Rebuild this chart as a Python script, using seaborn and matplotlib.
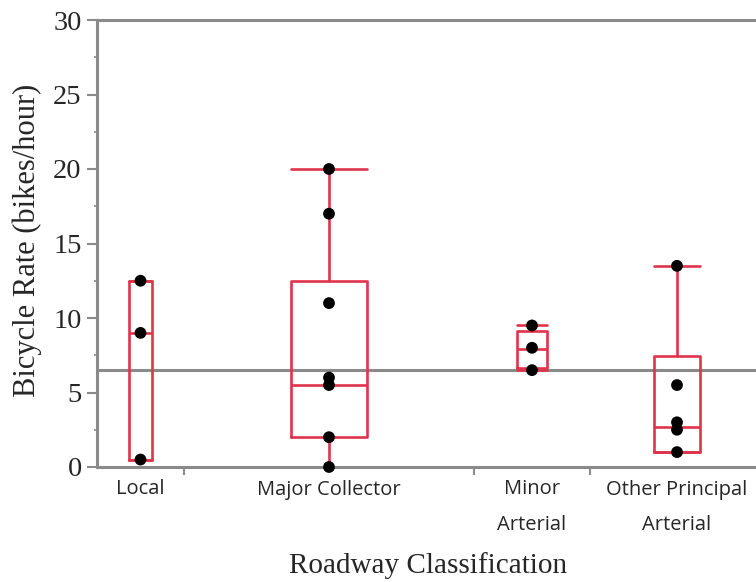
import pandas as pd
import matplotlib
matplotlib.use('Agg')
import matplotlib.pyplot as plt
import seaborn as sns

# data
groups = ['Local', 'Major Collector', 'Minor Arterial', 'Other Principal Arterial']
labels = ['Local', 'Major Collector', 'Minor\nArterial', 'Other Principal\nArterial']
n_obs = [3, 10, 4, 6]

local_pts = [12.5, 9.0, 0.5]
major_pts = [20.0, 17.0, 11.0, 6.0, 5.5, 2.0, 0.0]
minor_pts = [9.5, 8.0, 6.5]
other_pts = [13.5, 5.5, 3.0, 2.5, 1.0]

q1 = [0.5, 2.0, 6.65, 1.0]
med = [9.0, 5.5, 7.9, 2.7]
q3 = [12.5, 12.5, 9.1, 7.45]
whis_lo = [0.5, 0.0, 6.5, 1.0]
whis_hi = [12.5, 20.0, 9.5, 13.5]

grand_mean = 6.5

sns.set_style('white')

red = '#e0344c'
grey = '#8a8a8a'

# group spans on the x axis are proportional to sample size (JMP style)
edges = [0]
for n in n_obs:
    edges.append(edges[-1] + n)
centers = [(edges[i] + edges[i + 1]) / 2 for i in range(len(n_obs))]
widths = [0.26 * n for n in n_obs]

fig = plt.figure(figsize=(7.56, 5.82), dpi=100)
ax = fig.add_axes([97 / 756, 1 - 467 / 582, 667 / 756, 447 / 582])

stats = []
for i, g in enumerate(groups):
    stats.append(dict(label=g, q1=q1[i], med=med[i], q3=q3[i],
                      whislo=whis_lo[i], whishi=whis_hi[i], fliers=[]))

line_kw = dict(color=red, linewidth=1.9)
ax.bxp(stats, positions=centers, widths=widths, capwidths=widths,
       showfliers=False, boxprops=line_kw, medianprops=line_kw,
       whiskerprops=line_kw, capprops=line_kw, manage_ticks=False, zorder=3)

ax.axhline(grand_mean, color=grey, linewidth=2.2, zorder=2)

pts = pd.DataFrame({
    'group': [groups[0]] * len(local_pts) + [groups[1]] * len(major_pts)
             + [groups[2]] * len(minor_pts) + [groups[3]] * len(other_pts),
    'rate': local_pts + major_pts + minor_pts + other_pts,
})
pts['x'] = pts['group'].map(dict(zip(groups, centers)))
sns.scatterplot(data=pts, x='x', y='rate', color='black', s=72,
                edgecolor='none', ax=ax, zorder=4, clip_on=False)

ax.set_xlim(edges[0], edges[-1])
ax.set_ylim(0, 30)

# y axis
ax.set_yticks(range(0, 31, 5))
ax.set_yticks([2.5 + 5 * i for i in range(6)], minor=True)
ax.tick_params(axis='y', which='major', left=True, length=7.5, width=1.5,
               color=grey, labelsize=20.5, pad=3.5)
ax.tick_params(axis='y', which='minor', left=True, length=2.5, width=1.2,
               color=grey)
for t in ax.get_yticklabels():
    t.set_fontfamily('Liberation Serif')

# x axis: ticks at group boundaries, labels at centers
ax.set_xticks(edges[1:-1])
ax.set_xticks(centers, minor=True)
ax.set_xticklabels([])
ax.set_xticklabels(labels, minor=True, fontfamily='Open Sans', fontsize=14.5,
                   linespacing=2.0, va='top')
ax.tick_params(axis='x', which='major', bottom=True, length=6, width=1.5,
               color=grey)
ax.tick_params(axis='x', which='minor', bottom=False, pad=7)

for side in ['left', 'top', 'bottom']:
    ax.spines[side].set_color(grey)
    ax.spines[side].set_linewidth(2.2)
    ax.spines[side].set_zorder(3.5)
ax.spines['right'].set_visible(False)

ax.set_ylabel('Bicycle Rate (bikes/hour)', fontfamily='Liberation Serif',
              fontsize=22)
ax.set_xlabel('Roadway Classification', fontfamily='Liberation Serif',
              fontsize=21)
ax.yaxis.set_label_coords(-0.083, 0.508)
ax.xaxis.set_label_coords(0.497, -0.19)

fig.savefig('out.png', dpi=100)
